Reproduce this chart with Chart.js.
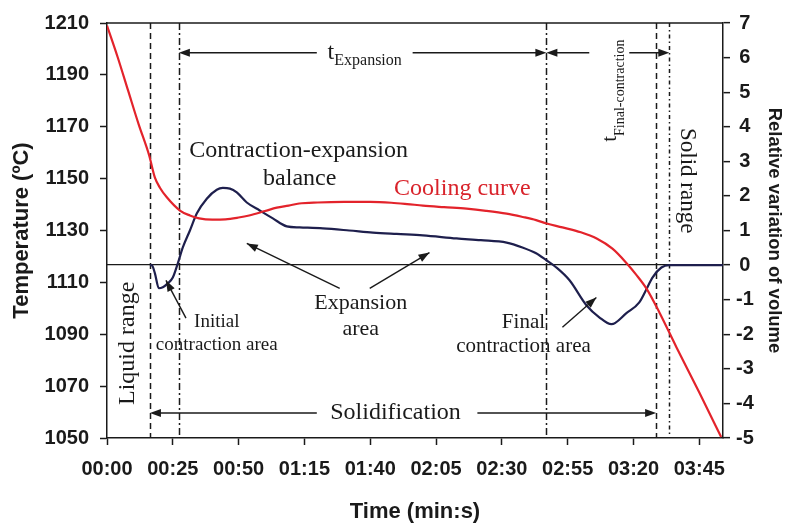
<!DOCTYPE html>
<html>
<head>
<meta charset="utf-8">
<script src="https://cdn.jsdelivr.net/npm/chart.js@4.4.1/dist/chart.umd.min.js"></script>
<style>
  html, body { margin: 0; padding: 0; background: #fff; }
</style>
</head>
<body>
<canvas id="chart" width="785" height="525"></canvas>
<script>
// cooling curve: time (s) / temperature (°C)
const tempTime = [0, 4, 8, 12, 16, 18.2, 20.1, 22.8, 27.7, 31.5, 35, 40, 45, 50, 54, 60, 64.5, 69, 73, 80,
  90, 100, 108, 114, 120, 128, 136.6, 144, 151.8, 158, 163, 167, 173, 180, 186, 192, 197.3, 201, 205, 209.8,
  216.3, 225, 233.3];
const tempValues = [1209, 1197, 1184, 1171, 1159, 1150.4, 1146.5, 1142.7, 1137.7, 1135.8, 1134.7, 1134.2, 1134.3, 1135, 1135.8, 1137.5, 1138.8, 1139.6, 1140.4, 1140.8,
  1141, 1141, 1140.7, 1140.2, 1139.6, 1139, 1138.4, 1137.6, 1136.5, 1135.2, 1134, 1132.7, 1131.2, 1129.3, 1126.9, 1123, 1117.5, 1113, 1107.5, 1098.5,
  1085, 1067.5, 1050.4];

// relative variation of volume: time (s) / value
const volTime = [16.3, 17, 18.2, 19.7, 21.2, 23.1, 25, 26.9, 28.8, 31.5, 34.1, 37.9, 41.7, 44, 46.7, 49.3, 53.1, 58, 63, 68.3,
  73.2, 82, 92, 101, 110, 120, 132.8, 142, 151.8, 157.8, 163, 166.9, 170.7, 175.7, 182.1, 187, 191.6, 197.3, 202.2, 205.3,
  207.2, 210.6, 213.6, 234];
const volValues = [0, 0, -0.24, -0.67, -0.64, -0.53, -0.36, 0.05, 0.51, 1.0, 1.49, 1.92, 2.18, 2.23, 2.21, 2.1, 1.81, 1.58, 1.35, 1.12,
  1.09, 1.06, 1.0, 0.94, 0.9, 0.86, 0.77, 0.72, 0.65, 0.51, 0.34, 0.14, -0.07, -0.44, -1.16, -1.51, -1.71, -1.39, -1.08, -0.64,
  -0.36, -0.07, 0, 0];

const tickSeconds = [0, 25, 50, 75, 100, 125, 150, 175, 200, 225];
const tickLabels = ['00:00', '00:25', '00:50', '01:15', '01:40', '02:05', '02:30', '02:55', '03:20', '03:45'];

// stage boundaries (s): end of liquid, start/end of expansion, start of solid, end of final contraction
const stageBounds = [16.3, 27.3, 166.9, 208.6, 213.6];

const SANS = '"Liberation Sans", Arial, sans-serif';
const SERIF = '"Liberation Serif", "Times New Roman", serif';
const INK = '#1a1a1a';

const stageDash = [[6, 4], [7, 3, 2, 3], [7, 3, 2, 3], [6, 4], [4, 3, 1.5, 3]];

// span arrows: [from, to, temperature level, gapStart, gapEnd]
const spans = [
  [stageBounds[1], stageBounds[2], 1198.5, 79.7, 116.1],
  [stageBounds[2], stageBounds[4], 1198.5, 183.2, 198.4],
  [stageBounds[0], stageBounds[3], 1059.6, 79.7, 140.7]
];

// pointer arrows: [tail t, tail T, tip t, tip T]
const pointers = [
  [30, 1096.2, 22.4, 1110.8],
  [88.4, 1107.7, 53.1, 1125],
  [99.8, 1107.7, 122.5, 1121.5],
  [173, 1092.7, 185.9, 1104.2]
];

// text labels: [text, t, T, size, colour, rotation]
const notes = [
  ['Contraction-expansion', 72.8, 1160.8, 24, INK, 0],
  ['balance', 73.2, 1150, 24, INK, 0],
  ['Cooling curve', 135, 1146.2, 24, '#d9232b', 0],
  ['Expansion', 96.4, 1101.9, 22, INK, 0],
  ['area', 96.4, 1091.9, 22, INK, 0],
  ['Initial', 41.7, 1094.6, 19, INK, 0],
  ['contraction area', 41.7, 1085.8, 19, INK, 0],
  ['Final', 158.2, 1094.6, 21, INK, 0],
  ['contraction area', 158.2, 1085.4, 21, INK, 0],
  ['Solidification', 109.6, 1059.6, 24, INK, 0],
  ['Liquid range', 8, 1086.5, 24, INK, -Math.PI / 2],
  ['Solid range', 220.4, 1149.2, 23, INK, Math.PI / 2]
];

function arrowHead(ctx, x1, y1, x2, y2) {
  const a = Math.atan2(y2 - y1, x2 - x1);
  const len = 11, half = 4;
  ctx.beginPath();
  ctx.moveTo(x2, y2);
  ctx.lineTo(x2 - len * Math.cos(a) + half * Math.sin(a), y2 - len * Math.sin(a) - half * Math.cos(a));
  ctx.lineTo(x2 - len * Math.cos(a) - half * Math.sin(a), y2 - len * Math.sin(a) + half * Math.cos(a));
  ctx.closePath();
  ctx.fill();
}

function segment(ctx, x1, y1, x2, y2) {
  ctx.beginPath();
  ctx.moveTo(x1, y1);
  ctx.lineTo(x2, y2);
  ctx.stroke();
}

const annotations = {
  id: 'annotations',
  beforeDatasetsDraw(chart) {
    const {ctx, chartArea: area, scales: {x}} = chart;
    ctx.save();
    ctx.strokeStyle = INK;
    ctx.lineWidth = 1.5;
    stageBounds.forEach((t, i) => {
      const xp = Math.round(x.getPixelForValue(t)) + 0.5;
      ctx.setLineDash(stageDash[i]);
      segment(ctx, xp, area.top, xp, area.bottom);
    });
    ctx.restore();
  },
  afterDatasetsDraw(chart) {
    const {ctx, chartArea: area, scales: {x, y}} = chart;
    ctx.save();
    ctx.strokeStyle = INK;
    ctx.fillStyle = INK;
    ctx.lineWidth = 1.5;

    // plot frame top
    segment(ctx, area.left, area.top, area.right, area.top);

    // double-headed spans
    spans.forEach(([a, b, T, g1, g2]) => {
      const xa = x.getPixelForValue(a), xb = x.getPixelForValue(b);
      const yp = y.getPixelForValue(T);
      const ga = x.getPixelForValue(g1), gb = x.getPixelForValue(g2);
      segment(ctx, xa + 4, yp, ga, yp);
      segment(ctx, gb, yp, xb - 4, yp);
      arrowHead(ctx, ga, yp, xa, yp);
      arrowHead(ctx, gb, yp, xb, yp);
    });

    // pointer arrows
    ctx.lineWidth = 1.4;
    pointers.forEach(([t1, T1, t2, T2]) => {
      const x1 = x.getPixelForValue(t1), y1 = y.getPixelForValue(T1);
      const x2 = x.getPixelForValue(t2), y2 = y.getPixelForValue(T2);
      segment(ctx, x1, y1, x2, y2);
      arrowHead(ctx, x1, y1, x2, y2);
    });

    // labels
    ctx.textAlign = 'center';
    ctx.textBaseline = 'middle';
    notes.forEach(([text, t, T, size, colour, rot]) => {
      ctx.save();
      ctx.translate(x.getPixelForValue(t), y.getPixelForValue(T));
      ctx.rotate(rot);
      ctx.font = `${size}px ${SERIF}`;
      ctx.fillStyle = colour;
      ctx.fillText(text, 0, 0);
      ctx.restore();
    });

    // t_Expansion
    ctx.textAlign = 'left';
    ctx.textBaseline = 'alphabetic';
    const xs = x.getPixelForValue(83.8), ys = y.getPixelForValue(spans[0][2]);
    ctx.font = `24px ${SERIF}`;
    ctx.fillText('t', xs, ys + 6);
    const sw = ctx.measureText('t').width;
    ctx.font = `16px ${SERIF}`;
    ctx.fillText('Expansion', xs + sw, ys + 12);

    // t_Final-contraction, written upwards
    ctx.save();
    ctx.translate(x.getPixelForValue(193.5), y.getPixelForValue(1164.2));
    ctx.rotate(-Math.PI / 2);
    ctx.font = `21px ${SERIF}`;
    ctx.fillText('t', 0, 0);
    const tw = ctx.measureText('t').width;
    ctx.font = `14px ${SERIF}`;
    ctx.fillText('Final-contraction', tw, 8);
    ctx.restore();

    ctx.restore();
  }
};

new Chart(document.getElementById('chart'), {
  type: 'line',
  data: {
    datasets: [{
      label: 'Cooling curve',
      data: tempTime.map((t, i) => ({x: t, y: tempValues[i]})),
      yAxisID: 'y',
      borderColor: '#e3232b',
      borderWidth: 2.2,
      pointRadius: 0,
      cubicInterpolationMode: 'monotone'
    }, {
      label: 'Relative variation of volume',
      data: volTime.map((t, i) => ({x: t, y: volValues[i]})),
      yAxisID: 'y1',
      borderColor: '#1e1f4d',
      borderWidth: 2.2,
      pointRadius: 0,
      cubicInterpolationMode: 'monotone'
    }]
  },
  options: {
    responsive: false,
    animation: false,
    layout: {padding: {top: 22, left: 0, right: 0, bottom: 0}},
    plugins: {
      legend: {display: false},
      tooltip: {enabled: false}
    },
    scales: {
      x: {
        type: 'linear',
        min: 0,
        max: 234,
        afterBuildTicks: (scale) => { scale.ticks = tickSeconds.map(v => ({value: v})); },
        afterFit: (scale) => { scale.height = 87; },
        ticks: {
          callback: (v) => tickLabels[tickSeconds.indexOf(v)],
          font: {family: SANS, size: 20, weight: 'bold'},
          color: INK,
          padding: 12,
          maxRotation: 0,
          autoSkip: false
        },
        grid: {drawOnChartArea: false, tickLength: 7, tickColor: INK, tickWidth: 1.5},
        border: {color: INK, width: 1.5},
        title: {
          display: true,
          text: 'Time (min:s)',
          font: {family: SANS, size: 22, weight: 'bold'},
          color: INK,
          padding: {top: 0, bottom: 0}
        }
      },
      y: {
        position: 'left',
        min: 1050,
        max: 1210,
        afterFit: (scale) => { scale.width = 107; },
        ticks: {
          stepSize: 20,
          callback: (v) => String(v),
          font: {family: SANS, size: 20, weight: 'bold'},
          color: INK,
          padding: 11
        },
        grid: {drawOnChartArea: false, tickLength: 7, tickColor: INK, tickWidth: 1.5},
        border: {color: INK, width: 1.5},
        title: {
          display: true,
          text: 'Temperature (ºC)',
          font: {family: SANS, size: 22, weight: 'bold'},
          color: INK,
          padding: {top: 9, bottom: 0}
        }
      },
      y1: {
        position: 'right',
        min: -5,
        max: 7,
        afterFit: (scale) => { scale.width = 62; },
        ticks: {
          stepSize: 1,
          font: {family: SANS, size: 20, weight: 'bold'},
          color: INK,
          padding: 6,
          crossAlign: 'center'
        },
        grid: {
          drawOnChartArea: true,
          color: (c) => (c.tick && c.tick.value === 0 ? INK : 'rgba(0,0,0,0)'),
          lineWidth: 1.3,
          tickLength: 7,
          tickColor: INK,
          tickWidth: 1.5
        },
        border: {color: INK, width: 1.5},
        title: {
          display: true,
          text: 'Relative variation of volume',
          font: {family: SANS, size: 18.5, weight: 'bold'},
          color: INK,
          padding: {top: 0, bottom: 0}
        }
      }
    }
  },
  plugins: [annotations]
});
</script>
</body>
</html>
